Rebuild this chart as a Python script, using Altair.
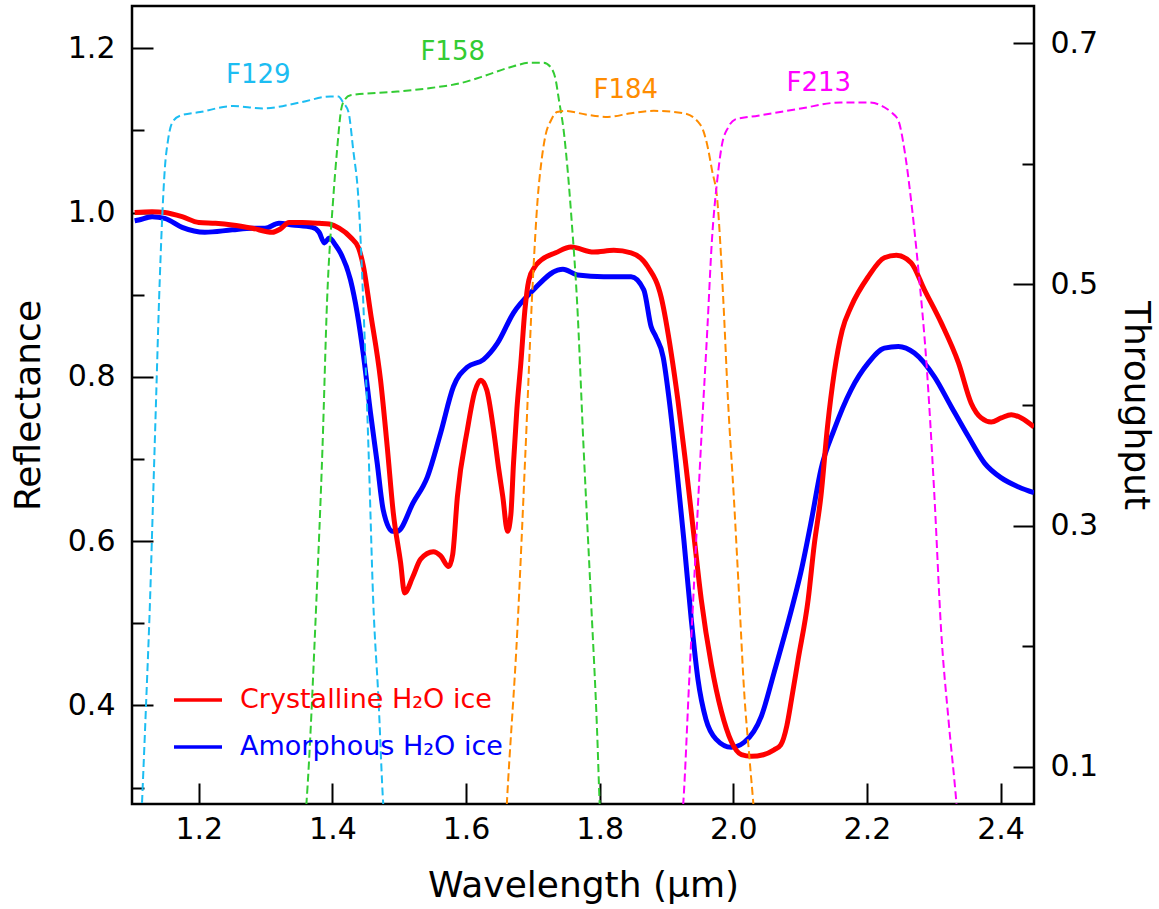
import altair as alt
import pandas as pd

# ---------------- data ----------------
wl_cryst = [1.104, 1.130, 1.149, 1.175, 1.200, 1.225, 1.250, 1.280, 1.310, 1.322, 1.335, 1.355,
            1.380, 1.395, 1.410, 1.427, 1.439, 1.446, 1.457, 1.472, 1.482, 1.491, 1.502, 1.508,
            1.520, 1.532, 1.551, 1.562, 1.574, 1.580, 1.587, 1.602, 1.613, 1.622, 1.631, 1.641,
            1.649, 1.655, 1.662, 1.667, 1.671, 1.676, 1.682, 1.688, 1.694, 1.703, 1.712, 1.734,
            1.757, 1.791, 1.821, 1.847, 1.872, 1.892, 1.907, 1.917, 1.928, 1.940, 1.952, 1.967,
            1.982, 1.997, 2.012, 2.027, 2.045, 2.061, 2.071, 2.080, 2.087, 2.097, 2.112, 2.121,
            2.131, 2.141, 2.151, 2.163, 2.176, 2.202, 2.226, 2.244, 2.266, 2.286, 2.311, 2.337,
            2.356, 2.371, 2.386, 2.401, 2.416, 2.431, 2.450]
refl_cryst = [1.000, 1.001, 1.000, 0.995, 0.988, 0.987, 0.985, 0.981, 0.976, 0.980, 0.988, 0.988,
              0.987, 0.986, 0.981, 0.970, 0.957, 0.936, 0.878, 0.796, 0.715, 0.635, 0.574, 0.537,
              0.556, 0.578, 0.587, 0.582, 0.569, 0.584, 0.654, 0.736, 0.782, 0.796, 0.784, 0.736,
              0.687, 0.654, 0.612, 0.632, 0.695, 0.760, 0.817, 0.881, 0.918, 0.934, 0.942, 0.951,
              0.958, 0.952, 0.954, 0.951, 0.934, 0.897, 0.829, 0.772, 0.699, 0.614, 0.529, 0.450,
              0.393, 0.356, 0.340, 0.338, 0.340, 0.346, 0.352, 0.375, 0.407, 0.456, 0.529, 0.595,
              0.654, 0.740, 0.805, 0.857, 0.885, 0.922, 0.945, 0.948, 0.939, 0.906, 0.866, 0.817,
              0.768, 0.750, 0.745, 0.750, 0.754, 0.750, 0.739]

wl_amor = [1.104, 1.110, 1.130, 1.149, 1.175, 1.209, 1.250, 1.280, 1.299, 1.320, 1.340, 1.370,
           1.380, 1.388, 1.395, 1.405, 1.412, 1.427, 1.437, 1.446, 1.457, 1.467, 1.476, 1.490,
           1.497, 1.521, 1.542, 1.562, 1.581, 1.602, 1.626, 1.647, 1.671, 1.701, 1.737, 1.745,
           1.767, 1.806, 1.847, 1.866, 1.877, 1.884, 1.895, 1.904, 1.914, 1.926, 1.937, 1.947,
           1.959, 1.974, 1.997, 2.016, 2.042, 2.061, 2.091, 2.101, 2.117, 2.131, 2.151, 2.176,
           2.202, 2.226, 2.247, 2.271, 2.301, 2.326, 2.352, 2.376, 2.401, 2.427, 2.450]
refl_amor = [0.990, 0.991, 0.995, 0.993, 0.982, 0.976, 0.979, 0.981, 0.981, 0.987, 0.985, 0.982,
             0.976, 0.963, 0.969, 0.960, 0.951, 0.918, 0.878, 0.829, 0.756, 0.695, 0.638, 0.612,
             0.612, 0.647, 0.678, 0.732, 0.788, 0.812, 0.821, 0.841, 0.878, 0.906, 0.930, 0.931,
             0.924, 0.922, 0.922, 0.906, 0.861, 0.849, 0.824, 0.772, 0.699, 0.601, 0.505, 0.432,
             0.383, 0.359, 0.349, 0.355, 0.387, 0.440, 0.529, 0.562, 0.626, 0.687, 0.736, 0.784,
             0.817, 0.835, 0.837, 0.829, 0.800, 0.764, 0.727, 0.695, 0.677, 0.666, 0.659]

f129_wl = [1.1135, 1.121, 1.127, 1.1315, 1.136, 1.1405, 1.145, 1.149, 1.154, 1.160, 1.172, 1.202,
           1.251, 1.296, 1.352, 1.397, 1.409, 1.416, 1.424, 1.431, 1.439, 1.446, 1.454, 1.461,
           1.469, 1.476, 1.479]
f129_tp = [0.050, 0.151, 0.238, 0.321, 0.404, 0.487, 0.553, 0.595, 0.620, 0.634, 0.640, 0.643,
           0.648, 0.646, 0.651, 0.656, 0.656, 0.651, 0.643, 0.612, 0.570, 0.487, 0.363, 0.238,
           0.155, 0.069, 0.048]

f158_wl = [1.358, 1.361, 1.376, 1.385, 1.392, 1.401, 1.407, 1.413, 1.418, 1.427, 1.497, 1.547,
           1.592, 1.622, 1.671, 1.697, 1.716, 1.727, 1.734, 1.739, 1.746, 1.752, 1.758, 1.766,
           1.776, 1.787, 1.796, 1.800, 1.802]
f158_tp = [0.048, 0.069, 0.238, 0.363, 0.487, 0.570, 0.612, 0.645, 0.653, 0.657, 0.660, 0.663,
           0.667, 0.672, 0.681, 0.684, 0.684, 0.680, 0.670, 0.653, 0.628, 0.595, 0.553, 0.487,
           0.363, 0.238, 0.131, 0.069, 0.048]

f184_wl = [1.659, 1.661, 1.677, 1.689, 1.700, 1.707, 1.713, 1.719, 1.727, 1.736, 1.749, 1.779,
           1.812, 1.847, 1.881, 1.926, 1.947, 1.956, 1.962, 1.968, 1.976, 1.985, 1.992, 2.001,
           2.009, 2.016, 2.024, 2.030, 2.033]
f184_tp = [0.048, 0.069, 0.216, 0.363, 0.504, 0.570, 0.603, 0.624, 0.636, 0.643, 0.644, 0.641,
           0.639, 0.642, 0.644, 0.642, 0.635, 0.626, 0.613, 0.595, 0.570, 0.487, 0.404, 0.321,
           0.238, 0.164, 0.108, 0.069, 0.048]

f213_wl = [1.922, 1.925, 1.934, 1.943, 1.952, 1.961, 1.968, 1.976, 1.983, 1.992, 2.003, 2.012,
           2.037, 2.101, 2.161, 2.202, 2.226, 2.236, 2.247, 2.256, 2.266, 2.277, 2.289, 2.301,
           2.311, 2.322, 2.334, 2.337]
f213_tp = [0.048, 0.069, 0.172, 0.272, 0.371, 0.462, 0.537, 0.587, 0.616, 0.630, 0.637, 0.638,
           0.640, 0.646, 0.651, 0.651, 0.647, 0.643, 0.636, 0.612, 0.570, 0.512, 0.435, 0.324,
           0.213, 0.139, 0.069, 0.048]

filter_names = ["F129", "F158", "F184", "F213"]
filter_colors = ["#1cbdf2", "#33cc33", "#ff8c00", "#ff00ff"]
label_wl = [1.289, 1.580, 1.839, 2.128]
label_tp = [0.674, 0.693, 0.661, 0.667]

sample_names = ["Crystalline H\u2082O ice", "Amorphous H\u2082O ice"]
sample_colors = ["#ff0000", "#0000ff"]

x_ticks = [1.2, 1.4, 1.6, 1.8, 2.0, 2.2, 2.4]
refl_ticks = [0.3, 0.4, 0.5, 0.6, 0.7, 0.8, 0.9, 1.0, 1.1, 1.2]
tp_ticks = [0.1, 0.2, 0.3, 0.4, 0.5, 0.6, 0.7]

# ---------------- tables ----------------
refl_df = pd.concat([
    pd.DataFrame({"wl": wl_amor, "refl": refl_amor, "sample": sample_names[1]}),
    pd.DataFrame({"wl": wl_cryst, "refl": refl_cryst, "sample": sample_names[0]}),
], ignore_index=True)

filt_wls = [f129_wl, f158_wl, f184_wl, f213_wl]
filt_tps = [f129_tp, f158_tp, f184_tp, f213_tp]
filt_df = pd.concat([
    pd.DataFrame({"wl": w, "tp": t, "name": n, "col": c})
    for w, t, n, c in zip(filt_wls, filt_tps, filter_names, filter_colors)
], ignore_index=True)

lab_df = pd.DataFrame({"wl": label_wl, "tp": label_tp, "name": filter_names, "col": filter_colors})

FONT = "DejaVu Sans"
x_dom = [1.1, 2.45]
r_dom = [0.28, 1.2515]
t_dom = [0.069, 0.731]

x_enc = alt.X(
    "wl:Q",
    scale=alt.Scale(domain=x_dom, nice=False, zero=False),
    axis=alt.Axis(
        values=x_ticks, format=".1f", orient="bottom",
        tickSize={"expr": "-21"}, labelPadding=31, labelFlush=False, labelOverlap=False,
        title="Wavelength (\u03bcm)", titleX=451, titleY=81, titleBaseline="middle",
        titleAngle=0,
    ),
)

left_axis = alt.Axis(
    values=refl_ticks, format=".1f", orient="left",
    tickSize={"expr": "round(datum.value*10) % 2 == 0 ? -21 : -12"},
    labelExpr="round(datum.value*10) % 2 == 0 ? datum.label : ''",
    labelPadding=38, labelOverlap=False, labelFlush=False,
    title="Reflectance", titleX=-104, titleY=399, titleBaseline="middle", titleAngle=270,
)

right_axis = alt.Axis(
    values=tp_ticks, format=".1f", orient="right",
    tickSize={"expr": "round(datum.value*10) % 2 == 1 ? -21 : -12"},
    labelExpr="round(datum.value*10) % 2 == 1 ? datum.label : ''",
    labelPadding=37, labelOverlap=False, labelFlush=False,
    title="Throughput", titleX=101, titleY=399, titleBaseline="middle", titleAngle=90,
)

refl_layer = alt.Chart(refl_df).mark_line(strokeWidth=5, interpolate="monotone", clip=True).encode(
    x=x_enc,
    y=alt.Y("refl:Q", scale=alt.Scale(domain=r_dom, nice=False, zero=False), axis=left_axis),
    color=alt.Color(
        "sample:N",
        scale=alt.Scale(domain=sample_names, range=sample_colors),
        legend=alt.Legend(
            title=None, orient="none", legendX=40, legendY=668, padding=0,
            symbolType="stroke", symbolSize=2304, symbolStrokeWidth=3.5,
            labelFont=FONT, labelFontSize=27, labelOffset=16, rowPadding=8, labelLimit=0,
            labelColor={"expr": "test(/Crystal/, datum.label) ? '#ff0000' : '#0000ff'"},
        ),
    ),
)

filt_layer = alt.Chart(filt_df).mark_line(
    strokeWidth=2, strokeDash=[8, 4], interpolate="monotone", clip=True
).encode(
    x=x_enc,
    y=alt.Y("tp:Q", scale=alt.Scale(domain=t_dom, nice=False, zero=False), axis=right_axis),
    stroke=alt.Stroke("col:N", scale=None),
    detail="name:N",
)

text_layer = alt.Chart(lab_df).mark_text(
    font=FONT, fontSize=26, align="center", baseline="middle"
).encode(
    x=x_enc,
    y=alt.Y("tp:Q", scale=alt.Scale(domain=t_dom, nice=False, zero=False), axis=None),
    text="name:N",
    fill=alt.Fill("col:N", scale=None),
)

chart = (
    alt.layer(refl_layer, filt_layer, text_layer)
    .resolve_scale(y="independent")
    .properties(
        width=902, height=798,
        autosize=alt.AutoSizeParams(type="none"),
        padding={"left": 132, "top": 6, "right": 125, "bottom": 105},
        background="white",
    )
    .configure_view(stroke="black", strokeWidth=2.5)
    .configure_axis(
        labelFont=FONT, labelFontSize=30, labelColor="black",
        titleFont=FONT, titleFontSize=36, titleFontWeight="normal", titleColor="black",
        tickColor="black", tickWidth=2, domain=False, grid=False,
    )
)

chart.save("out.html", embed_options={"renderer": "svg", "actions": False})
